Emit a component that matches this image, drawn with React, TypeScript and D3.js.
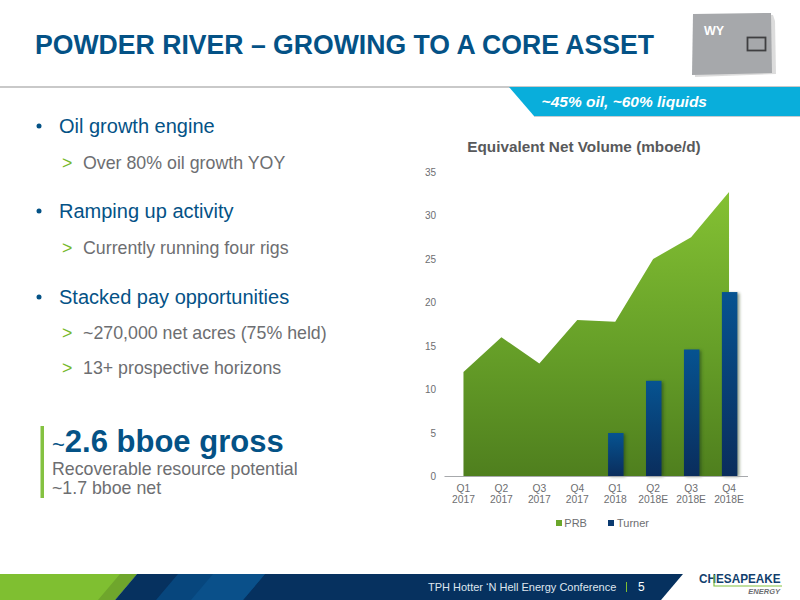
import React from "react";
import * as d3 from "d3";

const quarters = ["Q1", "Q2", "Q3", "Q4", "Q1", "Q2", "Q3", "Q4"];
const years = ["2017", "2017", "2017", "2017", "2018", "2018E", "2018E", "2018E"];
const prbValues = [12, 16, 13, 18, 17.8, 25, 27.5, 32.7];
const turnerValues = [null, null, null, null, 5, 11, 14.6, 21.2];
const yTicks = [0, 5, 10, 15, 20, 25, 30, 35];
const bullets = [
  { head: "Oil growth engine", y: 127, subs: [["Over 80% oil growth YOY", 163]] },
  { head: "Ramping up activity", y: 212, subs: [["Currently running four rigs", 248]] },
  { head: "Stacked pay opportunities", y: 298, subs: [["~270,000 net acres (75% held)", 333], ["13+ prospective horizons", 368]] },
];

const FONT = "'Liberation Sans', Arial, sans-serif";
const BLUE = "#045286";
const GREY = "#6d6e71";

export default function App() {
  const idx = quarters.map((_, i) => i);
  const x = d3.scaleBand<number>().domain(idx).range([444.5, 748]);
  const cx = (i: number) => x(i)! + x.bandwidth() / 2;
  const y = d3.scaleLinear().domain([0, 35]).range([476.5, 172]);
  const area = d3.area<number>().x((_, i) => cx(i)).y0(y(0)).y1((d) => y(d));
  const barW = 15.5;
  const barOffset = 0.6;
  return (
    <svg width={800} height={600} style={{ position: "absolute", left: 0, top: 0, background: "#fff" }} fontFamily={FONT}>
      <defs>
        <linearGradient id="prb" x1="0" y1="0" x2="0" y2="1">
          <stop offset="0" stopColor="#84c133" />
          <stop offset="0.55" stopColor="#669f28" />
          <stop offset="1" stopColor="#4f7f1e" />
        </linearGradient>
        <linearGradient id="turner" x1="0" y1="0" x2="0" y2="1">
          <stop offset="0" stopColor="#065391" />
          <stop offset="1" stopColor="#0a2d5c" />
        </linearGradient>
        <filter id="soft" x="-40%" y="-10%" width="180%" height="120%">
          <feGaussianBlur stdDeviation="1.5" />
        </filter>
      </defs>

      {/* header */}
      <text transform="translate(35,53.5) scale(0.972,1)" fontSize={27.4} fontWeight={700} fill={BLUE}>POWDER RIVER – GROWING TO A CORE ASSET</text>
      <rect x={0} y={86} width={800} height={2} fill="#c9c9c9" />
      <path d="M509 87H800V116H534Z" fill="#09aedb" />
      <path d="M534 116H800V117H534Z" fill="#8a9aa3" opacity={0.5} />
      <text x={707} y={107} textAnchor="end" fontSize={15.5} fontWeight={700} fontStyle="italic" fill="#fff">~45% oil, ~60% liquids</text>

      {/* state map */}
      <path d="M694 15L772 14L774 20L775 73L694 76Z" fill="#c4c4c4" transform="translate(1,1)" opacity={0.6} />
      <path d="M693 14L771 13L772 73L692 75Z" fill="#a6a8ab" />
      <text x={704} y={35} fontSize={12.5} fontWeight={700} fill="#fff">WY</text>
      <rect x={747.5} y={37.5} width={18} height={13} fill="none" stroke="#3f3f41" strokeWidth={1.8} />

      {/* bullets */}
      {bullets.map((b) => (
        <g key={b.head}>
          <circle cx={39} cy={b.y - 1} r={2.5} fill={BLUE} />
          <text x={59} y={b.y + 6} fontSize={20} fill={BLUE}>{b.head}</text>
          {b.subs.map(([t, sy]) => (
            <g key={t as string}>
              <text x={62} y={(sy as number) + 6} fontSize={17.8} fill="#76b82a">&gt;</text>
              <text x={83} y={(sy as number) + 6} fontSize={17.8} fill={GREY}>{t}</text>
            </g>
          ))}
        </g>
      ))}

      {/* callout */}
      <rect x={40.5} y={426} width={3.5} height={72} fill="#84c241" />
      <text x={52} y={452} fontSize={31} fontWeight={700} fill={BLUE}><tspan fontSize={22} fontWeight={400}>~</tspan>2.6 bboe gross</text>
      <text x={52} y={475} fontSize={17.75} fill={GREY}>Recoverable resource potential</text>
      <text x={52} y={494} fontSize={17.75} fill={GREY}>~1.7 bboe net</text>

      {/* chart */}
      <text x={584} y={152} textAnchor="middle" fontSize={15.3} fontWeight={700} fill="#58595b">Equivalent Net Volume (mboe/d)</text>
      {yTicks.map((t) => (
        <text key={t} x={436} y={y(t) + 3.5} textAnchor="end" fontSize={10} fill={GREY}>{t}</text>
      ))}
      <path d={area(prbValues) ?? ""} fill="url(#prb)" />
      {turnerValues.map((v, i) =>
        v == null ? null : (
          <g key={i}>
            <rect x={cx(i) + barOffset - barW / 2 + 2} y={y(v) + 1} width={barW} height={y(0) - y(v) - 1} fill="#1d3a12" opacity={0.5} filter="url(#soft)" />
            <rect x={cx(i) + barOffset - barW / 2} y={y(v)} width={barW} height={y(0) - y(v)} fill="url(#turner)" />
          </g>
        )
      )}
      <line x1={444.5} x2={748} y1={y(0)} y2={y(0)} stroke="#a7a9ac" strokeWidth={1} />
      {idx.map((i) => (
        <g key={i} fontSize={10.3} fill={GREY} textAnchor="middle">
          <text x={cx(i)} y={492}>{quarters[i]}</text>
          <text x={cx(i)} y={503}>{years[i]}</text>
        </g>
      ))}
      <rect x={556} y={520} width={6} height={6} fill="#6aa62a" />
      <text x={564.3} y={527} fontSize={11} fill={GREY}>PRB</text>
      <rect x={608} y={520} width={6} height={6} fill="#0a3a70" />
      <text x={617} y={527} fontSize={11} fill={GREY}>Turner</text>

      {/* footer */}
      <path d="M0 574H137L115 600H0Z" fill="#7fbf31" />
      <path d="M120 574H137L115 600H98Z" fill="#6fa62c" />
      <path d="M137 574H683L661 600H115Z" fill="#06315f" />
      <path d="M178 574H265L243 600H156Z" fill="#07467d" />
      <path d="M213 574H265L243 600H191Z" fill="#0a508a" />
      <text x={428} y={591} fontSize={11} fill="#dfe6ee">TPH Hotter ‘N Hell Energy Conference</text>
      <rect x={626} y={582} width={1} height={10} fill="#7fbf31" />
      <text x={638} y={591} fontSize={12} fill="#fff">5</text>
      <text transform="translate(699,583) scale(0.92,1)" fontSize={12.8} fontWeight={700} fill="#123f6d">CHESAPEAKE</text>
      <path d="M714 575V586H782" fill="none" stroke="#84c241" strokeWidth={1.2} />
      <text x={780} y={594} textAnchor="end" fontSize={7.5} fontWeight={700} fontStyle="italic" fill="#6d6e71">ENERGY</text>
    </svg>
  );
}
